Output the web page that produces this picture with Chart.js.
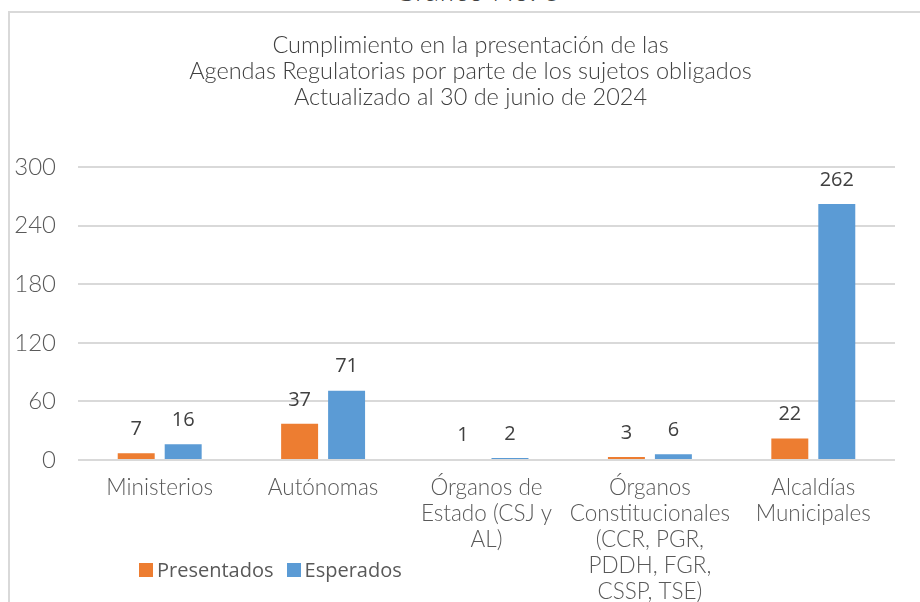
<!DOCTYPE html>
<html>
<head>
<meta charset="utf-8">
<script src="https://cdn.jsdelivr.net/npm/chart.js@4"></script>
<style>
  html, body { margin: 0; padding: 0; background: #fff; }
  #wrap { position: relative; width: 920px; height: 602px; overflow: hidden; background: #fff; }
  #frameTop { position: absolute; left: 8px; top: 11px; width: 912px; height: 2px; background: #d9d9d9; }
  #frameLeft { position: absolute; left: 8px; top: 11px; width: 2px; height: 600px; background: #d9d9d9; }
  #heading { position: absolute; left: 0; width: 955px; top: -28px; text-align: center; font: 300 29px Lato, "Open Sans", sans-serif; color: #404040; }
  canvas { position: absolute; left: 0; top: 0; }
  #legend { position: absolute; left: 139px; top: 556px; font: 20px "Open Sans", "Noto Sans", sans-serif; color: #595959; display: flex; align-items: center; }
  #legend .sw { display: inline-block; width: 14px; height: 14px; margin-right: 4px; }
  #legend .it { display: flex; align-items: center; margin-right: 13px; }
</style>
</head>
<body>
<div id="wrap">
  <div id="frameTop"></div>
  <div id="frameLeft"></div>
  <div id="heading">Gráfico No. 5</div>
  <canvas id="c" width="920" height="602"></canvas>
  <div id="legend"></div>
</div>
<script>
const categories = [
  "Ministerios",
  "Autónomas",
  ["Órganos de", "Estado (CSJ y", "AL)"],
  ["Órganos", "Constitucionales", "(CCR, PGR,", "PDDH, FGR,", "CSSP, TSE)"],
  ["Alcaldías", "Municipales"]
];
const presentados = [7, 37, 1, 3, 22];
const esperados = [16, 71, 2, 6, 262];
const seriesNames = ["Presentados", "Esperados"];
const titleLines = [
  "Cumplimiento en la presentación de las",
  "Agendas Regulatorias por parte de los sujetos obligados",
  "Actualizado al 30 de junio de 2024"
];
const yMin = 0, yMax = 300, yStep = 60;

const colors = ["#ED7D31", "#5B9BD5"];

const labelPlugin = {
  id: 'valueLabels',
  afterLayout(chart) {
    const t = chart.titleBlock;
    if (t) { t.left += 23; t.right += 23; }
  },
  afterDatasetsDraw(chart) {
    const ctx = chart.ctx;
    ctx.save();
    ctx.font = '20px "Open Sans", "Noto Sans", sans-serif';
    ctx.fillStyle = '#404040';
    ctx.textAlign = 'center';
    ctx.textBaseline = 'middle';
    chart.data.datasets.forEach((ds, i) => {
      const meta = chart.getDatasetMeta(i);
      meta.data.forEach((bar, j) => {
        ctx.fillText(String(ds.data[j]), bar.x, bar.y - 24);
      });
    });
    ctx.restore();
  }
};

new Chart(document.getElementById('c'), {
  type: 'bar',
  data: {
    labels: categories,
    datasets: [
      { label: seriesNames[0], data: presentados, backgroundColor: colors[0] },
      { label: seriesNames[1], data: esperados, backgroundColor: colors[1] }
    ]
  },
  options: {
    responsive: false,
    animation: false,
    devicePixelRatio: 1,
    layout: { padding: { left: 0, right: 25, top: 0, bottom: 0 } },
    datasets: { bar: { categoryPercentage: 0.575, barPercentage: 0.787 } },
    plugins: {
      legend: { display: false },
      tooltip: { enabled: false },
      title: {
        display: true,
        text: titleLines,
        color: '#404040',
        font: { family: 'Lato, "Open Sans", sans-serif', size: 23.5, weight: 300, lineHeight: '26px' },
        padding: { top: 32, bottom: 57 }
      }
    },
    scales: {
      x: {
        grid: { display: false, drawTicks: false },
        border: { display: false },
        ticks: {
          color: '#595959',
          font: { family: 'Lato, "Open Sans", sans-serif', size: 22.5, weight: 300, lineHeight: '26px' },
          padding: 15,
          maxRotation: 0, minRotation: 0, autoSkip: false
        },
        afterFit(scale) { scale.height = 142; }
      },
      y: {
        min: yMin, max: yMax,
        grid: { color: '#d9d9d9', lineWidth: 2, drawTicks: false },
        border: { display: false },
        ticks: {
          stepSize: yStep,
          color: '#595959',
          font: { family: 'Lato, "Open Sans", sans-serif', size: 24, weight: 300 },
          padding: 22
        },
        afterFit(scale) { scale.width = 78; }
      }
    }
  },
  plugins: [labelPlugin]
});

const legend = document.getElementById('legend');
seriesNames.forEach((n, i) => {
  const it = document.createElement('span');
  it.className = 'it';
  const sw = document.createElement('span');
  sw.className = 'sw';
  sw.style.background = colors[i];
  it.appendChild(sw);
  it.appendChild(document.createTextNode(n));
  legend.appendChild(it);
});
</script>
</body>
</html>
